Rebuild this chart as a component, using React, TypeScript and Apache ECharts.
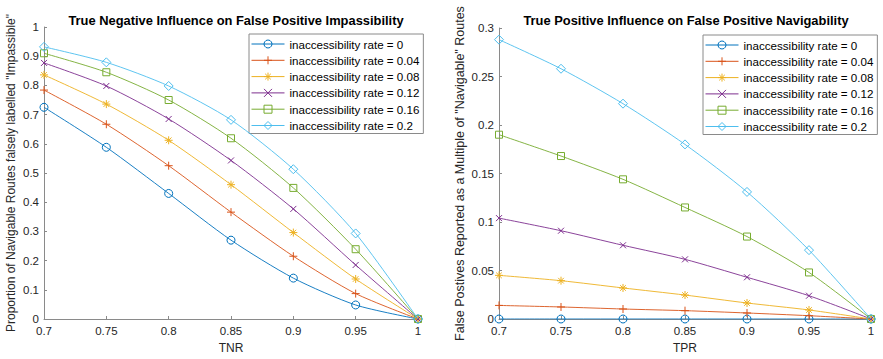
import React, { useEffect, useRef } from "react";
import * as echarts from "echarts";

const xValues = [0.7, 0.75, 0.8, 0.85, 0.9, 0.95, 1];
const seriesNames = [
  "inaccessibility rate = 0",
  "inaccessibility rate = 0.04",
  "inaccessibility rate = 0.08",
  "inaccessibility rate = 0.12",
  "inaccessibility rate = 0.16",
  "inaccessibility rate = 0.2",
];
const colors = ["#0072BD", "#D95319", "#EDB120", "#7E2F8E", "#77AC30", "#4DBEEE"];

// Left: TNR vs proportion falsely labelled "Impassible"
const tnrRate0 = [0.725, 0.588, 0.43, 0.27, 0.14, 0.048, 0];
const tnrRate004 = [0.784, 0.667, 0.525, 0.366, 0.215, 0.087, 0];
const tnrRate008 = [0.836, 0.736, 0.612, 0.46, 0.296, 0.137, 0];
const tnrRate012 = [0.877, 0.798, 0.685, 0.543, 0.377, 0.185, 0];
const tnrRate016 = [0.91, 0.845, 0.75, 0.619, 0.449, 0.239, 0];
const tnrRate020 = [0.932, 0.879, 0.798, 0.682, 0.513, 0.293, 0];

// Right: TPR vs false positives as multiple of "Navigable" routes
const tprRate0 = [0, 0, 0, 0, 0, 0, 0];
const tprRate004 = [0.014, 0.0124, 0.0103, 0.0086, 0.0062, 0.0034, 0];
const tprRate008 = [0.045, 0.0395, 0.032, 0.0247, 0.0165, 0.0093, 0];
const tprRate012 = [0.104, 0.091, 0.076, 0.0615, 0.043, 0.024, 0];
const tprRate016 = [0.19, 0.168, 0.144, 0.115, 0.085, 0.048, 0];
const tprRate020 = [0.288, 0.258, 0.222, 0.18, 0.131, 0.071, 0];

const leftData = [tnrRate0, tnrRate004, tnrRate008, tnrRate012, tnrRate016, tnrRate020];
const rightData = [tprRate0, tprRate004, tprRate008, tprRate012, tprRate016, tprRate020];

const symbols = [
  "path://M5,0A5,5,0,1,1,4.999,0Z",
  "path://M5,0L5,10M0,5L10,5",
  "path://M5,0L5,10M0,5L10,5M1.5,1.5L8.5,8.5M1.5,8.5L8.5,1.5",
  "path://M0,0L10,10M0,10L10,0",
  "path://M0,0L10,0L10,10L0,10Z",
  "path://M5,0L10,5L5,10L0,5Z",
];
const symbolSizes = [8, 8, 8, 6, 7, 9];

const FONT = "Liberation Sans, Arial, Helvetica, sans-serif";
const TEXT = "#262626";
const AXIS = "#8a8a8a";

export default function App() {
  const ref = useRef<HTMLDivElement>(null);
  useEffect(() => {
    if (!ref.current) return;
    const chart = echarts.init(ref.current, undefined, { renderer: "svg" });

    const makeAxisCommon = () => ({
      axisLine: { show: true, onZero: false, lineStyle: { color: AXIS, width: 1 } },
      axisTick: { show: true, inside: true, length: 3, lineStyle: { color: AXIS } },
      splitLine: { show: false },
      nameTextStyle: { color: TEXT, fontSize: 12, fontFamily: FONT },
    });

    const buildSeries = (data: number[][], idx: number) =>
      data.map((vals, i) => ({
        name: seriesNames[i],
        type: "line",
        xAxisIndex: idx,
        yAxisIndex: idx,
        smooth: 0.25,
        data: vals.map((v, j) => [xValues[j], v]),
        symbol: symbols[i],
        symbolSize: symbolSizes[i],
        showAllSymbol: true,
        lineStyle: { color: colors[i], width: 0.9 },
        itemStyle: { color: "rgba(255,255,255,0)", borderColor: colors[i], borderWidth: 1 },
        z: 2 + i,
      }));

    const legendCommon = {
      orient: "vertical",
      backgroundColor: "#fff",
      borderColor: "#8a8a8a",
      borderWidth: 1,
      borderRadius: 0,
      padding: [4, 4, 2, 2],
      itemWidth: 33,
      itemHeight: 10,
      itemGap: 4.3,
      lineStyle: { width: 1 },
      itemStyle: { borderWidth: 1 },
      textStyle: { color: "#000", fontSize: 11.6, fontFamily: FONT, lineHeight: 10 },
      data: seriesNames,
      selectedMode: false,
    };

    chart.setOption({
      animation: false,
      backgroundColor: "#fff",
      title: [
        {
          text: "True Negative Influence on False Positive Impassibility",
          left: 231,
          top: 9,
          textAlign: "center",
          textStyle: { fontSize: 12.9, fontWeight: "bold", color: "#000", fontFamily: FONT },
        },
        {
          text: "True Positive Influence on False Positive Navigability",
          left: 681,
          top: 9,
          textAlign: "center",
          textStyle: { fontSize: 12.9, fontWeight: "bold", color: "#000", fontFamily: FONT },
        },
      ],
      legend: [
        { ...legendCommon, left: 249, top: 34 },
        { ...legendCommon, left: 703, top: 35 },
      ],
      grid: [
        { left: 44, right: 465, top: 27, bottom: 40, containLabel: false },
        { left: 499, right: 12, top: 28, bottom: 40, containLabel: false },
      ],
      xAxis: [
        {
          ...makeAxisCommon(),
          type: "value",
          gridIndex: 0,
          min: 0.7,
          max: 1,
          interval: 0.05,
          name: "TNR",
          nameLocation: "middle",
          nameGap: 22,
          axisLabel: { color: TEXT, fontSize: 11.5, fontFamily: FONT, margin: 6 },
        },
        {
          ...makeAxisCommon(),
          type: "value",
          gridIndex: 1,
          min: 0.7,
          max: 1,
          interval: 0.05,
          name: "TPR",
          nameLocation: "middle",
          nameGap: 22,
          axisLabel: { color: TEXT, fontSize: 11.5, fontFamily: FONT, margin: 6 },
        },
      ],
      yAxis: [
        {
          ...makeAxisCommon(),
          type: "value",
          gridIndex: 0,
          min: 0,
          max: 1,
          interval: 0.1,
          name: 'Proportion of Navigable Routes falsely labelled "Impassible"',
          nameLocation: "middle",
          nameGap: 27,
          axisLabel: { color: TEXT, fontSize: 11.5, fontFamily: FONT, margin: 5 },
        },
        {
          ...makeAxisCommon(),
          type: "value",
          gridIndex: 1,
          min: 0,
          max: 0.3,
          interval: 0.05,
          name: 'False Postives Reported as a Multiple of "Navigable" Routes',
          nameLocation: "middle",
          nameGap: 33,
          nameTextStyle: { color: TEXT, fontSize: 12.5, fontFamily: FONT },
          axisLabel: { color: TEXT, fontSize: 11.5, fontFamily: FONT, margin: 5 },
        },
      ],
      series: [...buildSeries(leftData, 0), ...buildSeries(rightData, 1)],
    });

    return () => chart.dispose();
  }, []);

  return (
    <div
      ref={ref}
      style={{ position: "fixed", left: 0, top: 0, width: 883, height: 359, background: "#fff" }}
    />
  );
}
